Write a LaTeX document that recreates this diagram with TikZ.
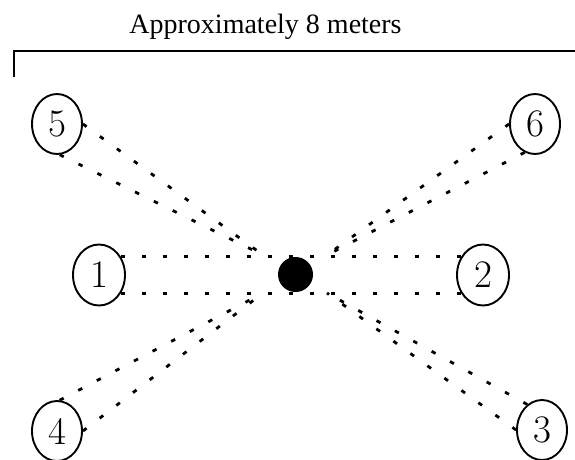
\documentclass[tikz,border=0pt]{standalone}
\usepackage{fontspec}
\newfontfamily\titlefont{Liberation Serif}
\usetikzlibrary{shapes.geometric}
\tikzset{
  station/.style={ellipse,draw,line width=1.9pt,minimum width=50pt,minimum height=60pt,inner sep=0pt,font=\fontsize{39}{39}\selectfont},
  path/.style={line width=2.8pt,dash pattern=on 4.5pt off 16.5pt},
}
\begin{document}
\begin{tikzpicture}[x=1pt,y=-1pt]
\useasboundingbox (0,0) rectangle (575,460);
\node[anchor=base,font=\titlefont\fontsize{28}{28}\selectfont] (title) at (265.5,34) {Approximately 8 meters};
\coordinate (bl) at (14,77);
\coordinate (bc) at (14,51);
\coordinate (br) at (580,51);
\draw[line width=2.6pt] (bl) -- (bc) -- (br);
\node[station] (c5) at (57,124) {5};
\node[station] (c6) at (535,124) {6};
\node[station,minimum width=52pt,minimum height=61pt] (c1) at (99,275) {1};
\node[station,minimum width=52pt,minimum height=61pt] (c2) at (483,275) {2};
\node[station] (c4) at (57,431) {4};
\node[station] (c3) at (542,430) {3};
\node[circle,fill=black,minimum size=35pt,inner sep=0pt] (dot) at (295.5,274.5) {};
\coordinate (pUL) at (263,255);
\coordinate (pUR) at (327,255);
\coordinate (pLL) at (263,293);
\coordinate (pLR) at (327,293);
\draw[path] (c1.40) -- (c2.140);
\draw[path] (c1.-40) -- (c2.-140);
\draw[path] (c5.east) -- (pUL);
\draw[path] (c5.-85) -- (pUL);
\draw[path] (c6.west) -- (pUR);
\draw[path] (c6.-110) -- (pUR);
\draw[path] (c4.85) -- (pLL);
\draw[path] (c4.east) -- (pLL);
\draw[path] (c3.120) -- (pLR);
\draw[path] (c3.west) -- (pLR);
\end{tikzpicture}
\end{document}
